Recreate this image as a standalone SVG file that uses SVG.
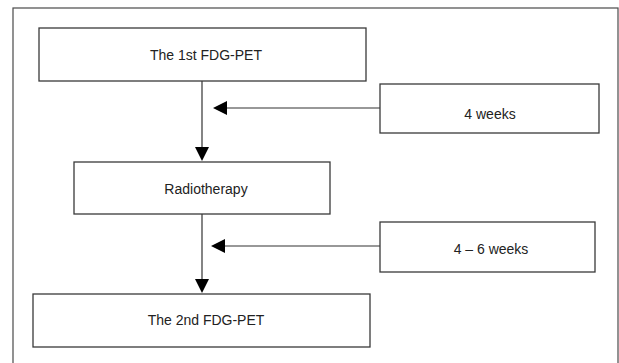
<svg xmlns="http://www.w3.org/2000/svg" width="619" height="363" viewBox="0 0 619 363">
<defs>
<style>
.box{fill:#fff;stroke:#3a3a3a;stroke-width:1.3}
.frame{fill:none;stroke:#4a4a4a;stroke-width:1.2}
.lbl{font-family:"Liberation Sans",Arial,sans-serif;font-size:14px;fill:#222;text-anchor:middle}
.con{stroke:#333;stroke-width:1.2;fill:none}
.head{fill:#000}
</style>
</defs>
<rect width="619" height="363" fill="#fff"/>
<rect class="frame" x="13" y="8" width="605" height="360"/>
<g id="connectors">
<line class="con" x1="202" y1="81" x2="202" y2="150"/>
<polygon class="head" points="195,147 209,147 202,161"/>
<line class="con" x1="380" y1="108" x2="225" y2="108"/>
<polygon class="head" points="227,101 227,115 213,108"/>
<line class="con" x1="202" y1="214" x2="202" y2="282"/>
<polygon class="head" points="195,279 209,279 202,293"/>
<line class="con" x1="380" y1="246" x2="223" y2="246"/>
<polygon class="head" points="225,239 225,253 211,246"/>
</g>
<g id="pet1">
<rect class="box" x="39" y="28" width="327" height="53"/>
<text class="lbl" x="206" y="60">The 1st FDG-PET</text>
</g>
<g id="weeks4">
<rect class="box" x="380" y="84" width="219" height="49"/>
<text class="lbl" x="490" y="119">4 weeks</text>
</g>
<g id="radiotherapy">
<rect class="box" x="74" y="162" width="256" height="52"/>
<text class="lbl" x="206" y="194">Radiotherapy</text>
</g>
<g id="weeks46">
<rect class="box" x="380" y="222" width="215" height="50"/>
<text class="lbl" x="491" y="254">4 – 6 weeks</text>
</g>
<g id="pet2">
<rect class="box" x="33" y="294" width="337" height="53"/>
<text class="lbl" x="206" y="325">The 2nd FDG-PET</text>
</g>
</svg>
